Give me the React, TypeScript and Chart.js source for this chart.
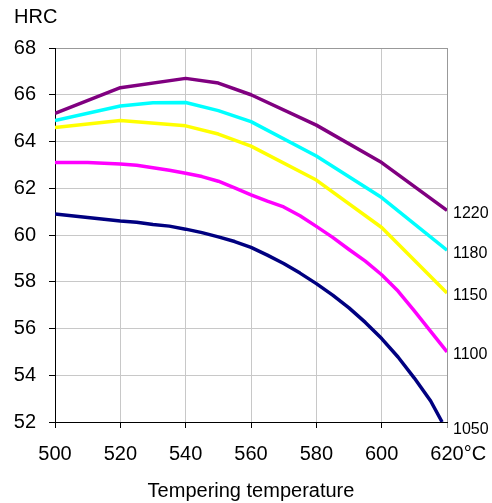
import React, { useEffect, useRef } from 'react';
import { Chart, registerables } from 'chart.js';

Chart.register(...registerables);

// Tempering temperature (°C) and hardness (HRC) for each austenitizing temperature
const temps1220 = [500, 520, 540, 550, 560, 580, 600, 620];
const hrc1220 = [65.2, 66.3, 66.7, 66.5, 66.0, 64.7, 63.1, 61.05];

const temps1180 = [500, 520, 530, 540, 550, 560, 580, 600, 620];
const hrc1180 = [64.9, 65.52, 65.66, 65.67, 65.32, 64.85, 63.38, 61.6, 59.35];

const temps1150 = [500, 520, 540, 550, 560, 580, 600, 620];
const hrc1150 = [64.6, 64.9, 64.67, 64.32, 63.8, 62.35, 60.32, 57.52];

const temps1100 = [500, 510, 520, 525, 530, 535, 540, 545, 550, 555, 560, 565, 570, 575, 580, 585, 590, 595, 600, 605, 610, 615, 620];
const hrc1100 = [63.1, 63.1, 63.04, 62.98, 62.88, 62.77, 62.64, 62.5, 62.3, 62.02, 61.72, 61.45, 61.2, 60.82, 60.37, 59.9, 59.38, 58.88, 58.3, 57.6, 56.75, 55.88, 55.0];

const temps1050 = [500, 510, 520, 525, 530, 535, 540, 545, 550, 555, 560, 565, 570, 575, 580, 585, 590, 595, 600, 605, 610, 615, 618.5];
const hrc1050 = [60.9, 60.75, 60.6, 60.55, 60.45, 60.38, 60.25, 60.1, 59.92, 59.72, 59.47, 59.14, 58.78, 58.37, 57.92, 57.43, 56.88, 56.26, 55.57, 54.78, 53.88, 52.9, 52.0];

const seriesNames = ['1220', '1180', '1150', '1100', '1050'];
const seriesTemps = [temps1220, temps1180, temps1150, temps1100, temps1050];
const seriesHrc = [hrc1220, hrc1180, hrc1150, hrc1100, hrc1050];
const seriesColors = ['#800080', '#00ffff', '#ffff00', '#ff00ff', '#000080'];

const xMin = 500;
const xMax = 620;
const xStep = 20;
const yMin = 52;
const yMax = 68;
const yStep = 2;
const yTitle = 'HRC';
const xTitle = 'Tempering temperature';
const xUnit = '°C';

const FONT = '"Liberation Sans", Arial, Helvetica, sans-serif';

export default function App() {
  const canvasRef = useRef<HTMLCanvasElement | null>(null);

  useEffect(() => {
    const canvas = canvasRef.current;
    if (!canvas) return;

    const textPlugin = {
      id: 'extraTexts',
      afterDraw(chart: any) {
        const ctx = chart.ctx as CanvasRenderingContext2D;
        const area = chart.chartArea;
        const xs = chart.scales.x;
        const ys = chart.scales.y;
        ctx.save();
        ctx.fillStyle = '#000';
        ctx.font = `20px ${FONT}`;
        ctx.textAlign = 'left';
        ctx.textBaseline = 'alphabetic';
        ctx.fillText(yTitle, 14, 23);

        ctx.textAlign = 'center';
        ctx.fillText(xTitle, (area.left + area.right) / 2, 497);

        // unit after the last x tick label
        const lastPx = xs.getPixelForValue(xMax);
        const w = ctx.measureText(String(xMax)).width;
        ctx.textAlign = 'left';
        ctx.textBaseline = 'middle';
        ctx.fillText(xUnit, lastPx + w / 2, area.bottom + 32);

        // series labels at right end
        ctx.font = `16px ${FONT}`;
        ctx.textAlign = 'left';
        ctx.textBaseline = 'middle';
        seriesNames.forEach((name, i) => {
          const vals = seriesHrc[i];
          const y = ys.getPixelForValue(vals[vals.length - 1]);
          ctx.fillText(name, area.right + 6, y + (i === 4 ? 8 : 3));
        });
        ctx.restore();
      },
    };

    const chart = new Chart(canvas, {
      type: 'line',
      data: {
        datasets: seriesNames.map((name, i) => ({
          label: name,
          data: seriesTemps[i].map((t, j) => ({ x: t, y: seriesHrc[i][j] })),
          borderColor: seriesColors[i],
          backgroundColor: seriesColors[i],
          borderWidth: 3.5,
          pointRadius: 0,
          pointHoverRadius: 0,
          tension: 0,
          fill: false,
          borderJoinStyle: 'round' as const,
        })),
      },
      options: {
        animation: false,
        responsive: false,
        maintainAspectRatio: false,
        events: [],
        layout: { padding: { left: 0, top: 48, right: 45, bottom: 0 } },
        plugins: {
          legend: { display: false },
          tooltip: { enabled: false },
          title: { display: false },
        },
        scales: {
          x: {
            type: 'linear',
            min: xMin,
            max: xMax,
            afterFit: (scale: any) => {
              scale.height = 81;
            },
            ticks: {
              stepSize: xStep,
              color: '#000',
              font: { family: FONT, size: 20 },
              padding: 14,
              maxRotation: 0,
              autoSkip: false,
              callback: (v: any) => String(v),
            },
            grid: {
              color: (ctx: any) => (ctx.tick && ctx.tick.value === xMax ? '#999999' : '#c8c8c8'),
              tickColor: (ctx: any) => (ctx.tick && ctx.tick.value === xMax ? '#999999' : '#000000'),
              tickLength: 6,
              lineWidth: 1,
            },
            border: { color: '#000', width: 1 },
          },
          y: {
            type: 'linear',
            min: yMin,
            max: yMax,
            afterFit: (scale: any) => {
              scale.width = 55;
            },
            ticks: {
              stepSize: yStep,
              color: '#000',
              font: { family: FONT, size: 20 },
              padding: 13,
              autoSkip: false,
            },
            grid: {
              color: (ctx: any) => (ctx.tick && ctx.tick.value === yMax ? '#999999' : '#c8c8c8'),
              tickColor: '#000',
              tickLength: 6,
              lineWidth: 1,
            },
            border: { color: '#000', width: 1 },
          },
        },
      },
      plugins: [textPlugin],
    });

    return () => {
      chart.destroy();
    };
  }, []);

  return (
    <div style={{ position: 'absolute', left: 0, top: 0, width: 492, height: 503, background: '#fff' }}>
      <canvas ref={canvasRef} width={492} height={503} style={{ display: 'block', width: 492, height: 503 }} />
    </div>
  );
}
